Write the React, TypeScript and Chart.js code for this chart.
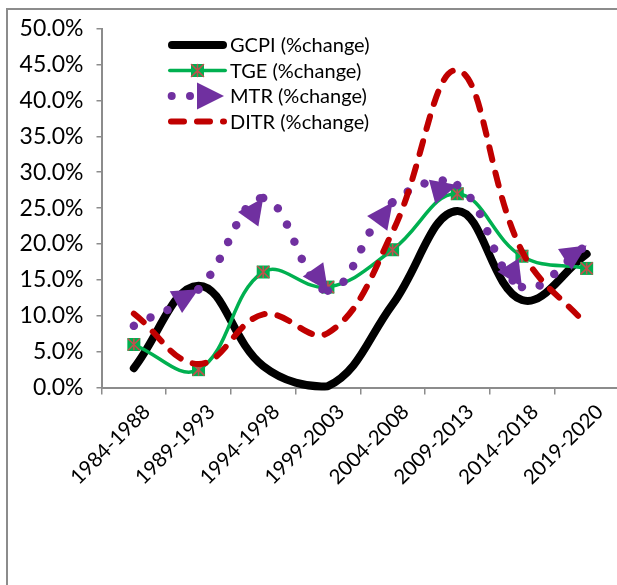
import React, { useEffect, useRef } from 'react';
import { Chart, registerables } from 'chart.js';

Chart.register(...registerables);

const categories = ['1984-1988', '1989-1993', '1994-1998', '1999-2003', '2004-2008', '2009-2013', '2014-2018', '2019-2020'];
const gcpiValues = [2.7, 14.2, 3.0, 0.2, 11.6, 24.6, 12.2, 18.6];
const tgeValues = [6.0, 2.5, 16.1, 14.0, 19.2, 27.0, 18.3, 16.6];
const mtrValues = [8.6, 13.7, 26.4, 13.5, 25.8, 28.2, 14.0, 19.8];
const ditrValues = [10.3, 3.3, 10.2, 7.6, 21.7, 44.2, 19.0, 8.7];
const seriesNames = ['GCPI (%change)', 'TGE (%change)', 'MTR (%change)', 'DITR (%change)'];
const yMin = 0;
const yMax = 50;
const yStep = 5;

const FONT = 'Lato, "Noto Sans", sans-serif';
const AXIS_COLOR = '#8c8c8c';
const BLACK = '#000000';
const GREEN = '#00B050';
const PURPLE = '#7030A0';
const RED = '#C00000';
const STAR = '#C0504D';

function drawStar(ctx: CanvasRenderingContext2D, x: number, y: number, s: number) {
  ctx.save();
  ctx.strokeStyle = STAR;
  ctx.lineWidth = 1.6;
  ctx.setLineDash([]);
  ctx.beginPath();
  ctx.moveTo(x - s, y - s);
  ctx.lineTo(x + s, y + s);
  ctx.moveTo(x + s, y - s);
  ctx.lineTo(x - s, y + s);
  ctx.moveTo(x, y - s);
  ctx.lineTo(x, y + s);
  ctx.stroke();
  ctx.restore();
}

function drawArrow(ctx: CanvasRenderingContext2D, x: number, y: number, angle: number, len: number, width: number, color: string) {
  ctx.save();
  ctx.translate(x, y);
  ctx.rotate(angle);
  ctx.fillStyle = color;
  ctx.beginPath();
  ctx.moveTo(0, 0);
  ctx.lineTo(-len, -width / 2);
  ctx.lineTo(-len, width / 2);
  ctx.closePath();
  ctx.fill();
  ctx.restore();
}

const markerPlugin = {
  id: 'customMarkers',
  afterDatasetDraw(chart: any, args: any) {
    const ds: any = chart.data.datasets[args.index];
    const pts = args.meta.data;
    const ctx = chart.ctx;
    if (ds.markerKind === 'star') {
      for (const p of pts) drawStar(ctx, p.x, p.y, 6);
    }
    if (ds.markerKind === 'arrow') {
      for (let i = 1; i < pts.length; i++) {
        const p = pts[i];
        const q = pts[i - 1];
        drawArrow(ctx, p.x, p.y, Math.atan2(p.y - q.y, p.x - q.x), 26, 25, PURPLE);
      }
    }
  },
};

const legendPlugin = {
  id: 'insideLegend',
  afterDraw(chart: any) {
    const ctx = chart.ctx;
    const { left, top } = chart.chartArea;
    const x0 = left + 66.5;
    const x1 = x0 + 59;
    ctx.save();
    chart.data.datasets.forEach((ds: any, i: number) => {
      const y = top + 16.4 + i * 25.5;
      ctx.save();
      ctx.strokeStyle = ds.borderColor;
      ctx.lineWidth = ds.borderWidth;
      ctx.lineCap = 'round';
      if (ds.markerKind === 'arrow') {
        ctx.fillStyle = ds.borderColor;
        [x0 + 3.7, x0 + 22].forEach((cx) => {
          ctx.beginPath();
          ctx.arc(cx, y, 4, 0, Math.PI * 2);
          ctx.fill();
        });
        drawArrow(ctx, x0 + 56, y, 0, 27, 27, ds.borderColor);
      } else {
        ctx.setLineDash(ds.borderDash || []);
        ctx.beginPath();
        const inset = ds.borderDash ? 3 : ds.borderWidth / 2;
        ctx.moveTo(x0 + inset, y);
        ctx.lineTo(x1 - inset, y);
        ctx.stroke();
        ctx.setLineDash([]);
        if (ds.markerKind === 'star') {
          const cx = (x0 + x1) / 2;
          ctx.fillStyle = GREEN;
          ctx.fillRect(cx - 6.5, y - 6.5, 13, 13);
          drawStar(ctx, cx, y, 6);
        }
      }
      ctx.restore();
      ctx.fillStyle = '#000';
      ctx.font = `20px ${FONT}`;
      ctx.textBaseline = 'middle';
      ctx.textAlign = 'left';
      ctx.fillText(seriesNames[i], x0 + 62, y + 1);
    });
    ctx.restore();
  },
};

export default function App() {
  const canvasRef = useRef<HTMLCanvasElement | null>(null);

  useEffect(() => {
    const canvas = canvasRef.current;
    if (!canvas) return;
    const chart = new Chart(canvas, {
      type: 'line',
      data: {
        labels: categories,
        datasets: [
          {
            label: seriesNames[0],
            data: gcpiValues,
            borderColor: BLACK,
            backgroundColor: BLACK,
            borderWidth: 8,
            borderCapStyle: 'round',
            pointRadius: 0,
            tension: 0.4,
            order: 4,
            clip: false,
          } as any,
          {
            label: seriesNames[1],
            data: tgeValues,
            borderColor: GREEN,
            backgroundColor: GREEN,
            borderWidth: 3.5,
            pointStyle: 'rect',
            pointRadius: 9.2,
            pointBorderWidth: 0,
            pointBackgroundColor: GREEN,
            tension: 0.4,
            order: 3,
            clip: false,
            markerKind: 'star',
          } as any,
          {
            label: seriesNames[2],
            data: mtrValues,
            borderColor: PURPLE,
            backgroundColor: PURPLE,
            borderWidth: 8.5,
            borderCapStyle: 'round',
            borderDash: [0.01, 18.6],
            segment: {
              borderDashOffset: (c: any) => (c.p0DataIndex % 2 ? 0.0001 : 0),
            },
            pointRadius: 0,
            tension: 0.4,
            order: 2,
            clip: false,
            markerKind: 'arrow',
          } as any,
          {
            label: seriesNames[3],
            data: ditrValues,
            borderColor: RED,
            backgroundColor: RED,
            borderWidth: 6,
            borderCapStyle: 'round',
            borderDash: [13, 13],
            pointRadius: 0,
            tension: 0.4,
            order: 1,
            clip: false,
          } as any,
        ],
      },
      options: {
        responsive: false,
        animation: false,
        events: [],
        layout: { padding: { top: 18.6, right: 29, bottom: 0, left: 0 } },
        plugins: {
          legend: { display: false },
          tooltip: { enabled: false },
        },
        scales: {
          x: {
            offset: true,
            afterFit: (scale: any) => {
              scale.height = 197.4;
              scale.paddingLeft = 0;
              scale.paddingRight = 0;
            },
            grid: {
              display: true,
              drawOnChartArea: false,
              offset: true,
              tickLength: 7,
              color: AXIS_COLOR,
              lineWidth: 1.5,
            },
            border: { display: true, color: AXIS_COLOR, width: 2 },
            ticks: {
              autoSkip: false,
              maxRotation: 45,
              minRotation: 45,
              color: '#000',
              font: { family: FONT, size: 20.5 },
              padding: 5,
              labelOffset: 13,
            },
          },
          y: {
            min: yMin,
            max: yMax,
            afterFit: (scale: any) => {
              scale.width = 93.5;
              scale.paddingTop = 0;
              scale.paddingBottom = 0;
            },
            grid: {
              display: true,
              drawOnChartArea: false,
              tickLength: 5,
              color: AXIS_COLOR,
              lineWidth: 1.5,
            },
            border: { display: true, color: AXIS_COLOR, width: 2 },
            ticks: {
              stepSize: yStep,
              color: '#000',
              font: { family: FONT, size: 23 },
              padding: 13,
              callback: (v: any) => Number(v).toFixed(1) + '%',
            },
          },
        },
      },
      plugins: [markerPlugin, legendPlugin],
    });
    return () => chart.destroy();
  }, []);

  return (
    <div
      style={{
        position: 'fixed',
        left: 6,
        top: 8,
        width: 611,
        height: 577,
        boxSizing: 'border-box',
        borderLeft: `2px solid ${AXIS_COLOR}`,
        borderTop: `2px solid ${AXIS_COLOR}`,
        overflow: 'hidden',
        background: '#fff',
      }}
    >
      <canvas ref={canvasRef} width={640} height={575} style={{ display: 'block' }} />
    </div>
  );
}
